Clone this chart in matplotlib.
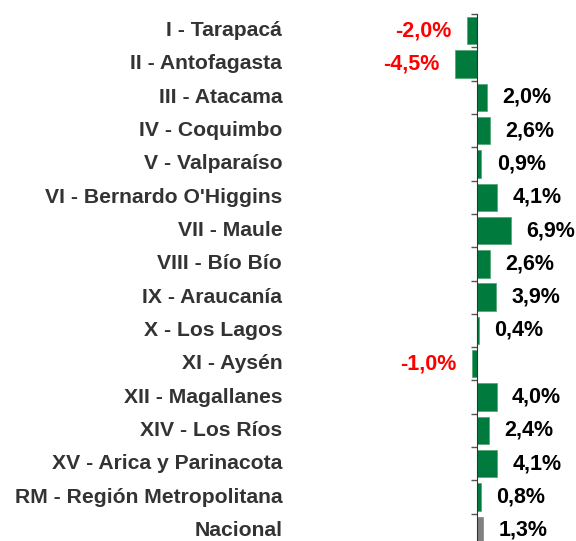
import matplotlib; matplotlib.use("Agg")
import matplotlib.pyplot as plt

regiones = ["I - Tarapacá", "II - Antofagasta", "III - Atacama", "IV - Coquimbo", "V - Valparaíso",
            "VI - Bernardo O'Higgins", "VII - Maule", "VIII - Bío Bío", "IX - Araucanía", "X - Los Lagos",
            "XI - Aysén", "XII - Magallanes", "XIV - Los Ríos", "XV - Arica y Parinacota",
            "RM - Región Metropolitana", "Nacional"]
variacion = [-2.0, -4.5, 2.0, 2.6, 0.9, 4.1, 6.9, 2.6, 3.9, 0.4, -1.0, 4.0, 2.4, 4.1, 0.8, 1.3]

plt.rcParams["font.family"] = ["Liberation Sans", "DejaVu Sans"]
fig = plt.figure(figsize=(5.76, 5.41), dpi=100)
ax = fig.add_axes([288/576, -6/541, 288/576, 533/541])

n = len(regiones)
colores = ["#007A3D"] * (n - 1) + ["#808080"]
ax.barh(range(n), variacion, height=0.82, color=colores, edgecolor="#4FA56F", linewidth=0.5)
ax.set_xlim(-38.6, 20.2); ax.set_ylim(n - 0.5, -0.5)

for s in ["top", "right", "bottom"]: ax.spines[s].set_visible(False)
ax.spines["left"].set_position(("data", 0)); ax.spines["left"].set_color("#333333")
ax.set_xticks([])
ax.set_yticks([i - 0.5 for i in range(n)]); ax.set_yticklabels([])
ax.tick_params(axis="y", length=4, width=1, color="#555555", direction="out")

for i, (nom, v) in enumerate(zip(regiones, variacion)):
    ax.text(-0.02, i, nom, transform=ax.get_yaxis_transform(), ha="right", va="center",
            fontsize=15.2, fontweight="bold", color="#333333")
    etiqueta = f"{v:.1f}%".replace(".", ",")
    if v < 0:
        ax.annotate(etiqueta, (v, i), xytext=(-11, 0), textcoords="offset points", ha="right", va="center",
                    fontsize=15.5, fontweight="bold", color="#FF0000")
    else:
        ax.annotate(etiqueta, (v, i), xytext=(11, 0), textcoords="offset points", ha="left", va="center",
                    fontsize=15.5, fontweight="bold", color="black")

fig.savefig("out.png", dpi=100)
